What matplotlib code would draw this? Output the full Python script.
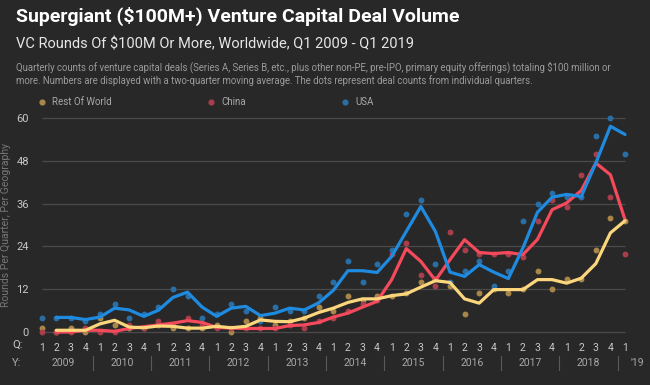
import matplotlib.pyplot as plt
import matplotlib.transforms as mtransforms

plt.rcParams['font.family'] = ['Roboto', 'DejaVu Sans']

# quarters Q1 2009 .. Q1 2019
quarters = ['1', '2', '3', '4'] * 10 + ['1']
years = ['2009', '2010', '2011', '2012', '2013', '2014', '2015', '2016', '2017', '2018']

# individual quarter deal counts (dots)
usa_dots = [4, 4, 4, 3, 5, 8, 4, 5, 7, 12, 10, 4, 5, 8, 6, 3, 7, 6, 6, 10,
            14, 20, 14, 19, 23, 33, 37, 19, 14, 17, 20, 13, 17, 31, 36, 39, 38, 38, 55, 60, 50]
china_dots = [0, 0, 0, 1, 0, 0, 2, 1, 3, 2, 4, 2, 1, 1, 1, 1, 1, 2, 1, 3,
              4, 6, 8, 9, 22, 25, 16, 13, 28, 23, 22, 22, 22, 21, 31, 37, 35, 44, 50, 38, 22]
row_dots = [1, 0, 1, 0, 4, 2, 1, 1, 2, 1, 1, 1, 2, 0, 3, 4, 2, 3, 4, 7,
            6, 10, 9, 10, 10, 11, 14, 15, 13, 5, 11, 12, 11, 12, 17, 12, 15, 15, 23, 32, 31]

# two-quarter moving average lines (start at Q2 2009)
usa_line = [4.1, 4.1, 3.5, 4.2, 6.7, 6.2, 4.4, 6.1, 9.7, 11.2, 7.0, 4.4, 6.7, 7.2, 4.6, 5.3,
            6.7, 6.2, 8.2, 11.7, 17.2, 17.2, 16.7, 21.2, 28.2, 35.2, 28.2, 16.8, 15.6, 18.9,
            16.8, 15.0, 23.6, 33.6, 37.8, 38.6, 38.0, 47.4, 57.7, 55.4]
china_line = [0, 0, 0.5, 0.5, 0.2, 1.0, 1.5, 2.0, 2.5, 3.2, 2.7, 1.3, 1.1, 1.0, 1.0, 1.0,
              1.8, 2.0, 2.7, 4.2, 5.3, 7.0, 8.6, 14.7, 23.4, 19.8, 14.5, 20.3, 25.9, 22.3,
              22.0, 22.3, 21.7, 26.0, 34.3, 36.2, 39.7, 47.4, 44.1, 31.5]
row_line = [0.5, 0.5, 0.5, 2.3, 3.3, 1.4, 1.2, 1.7, 1.6, 1.1, 1.1, 1.6, 1.2, 1.6, 3.4, 3.0,
            2.9, 3.9, 5.5, 6.7, 8.3, 9.3, 9.3, 10.2, 10.7, 12.6, 14.4, 13.9, 9.3, 8.1,
            11.9, 11.9, 11.9, 14.7, 14.7, 13.7, 15.1, 19.2, 27.8, 31.2]

bg = '#282828'
c_usa, c_china, c_row = '#1f8be0', '#f44a5c', '#fcd67c'
d_usa, d_china, d_row = '#2a6ea6', '#a83d4b', '#a8864a'

fig = plt.figure(figsize=(6.5, 3.85), dpi=100, facecolor=bg)
ax = fig.add_axes([34.4 / 650, 1 - 337.4 / 385, 597.9 / 650, 224.7 / 385], facecolor=bg)

x = list(range(len(quarters)))
xl = x[1:]
for yv in range(0, 61, 12):
    ax.hlines(yv, 0, 40, color='#4a4a4a', linewidth=0.9, zorder=0)

ax.scatter(x, row_dots, s=18, color=d_row, linewidths=0, zorder=1, clip_on=False)
ax.scatter(x, china_dots, s=18, color=d_china, linewidths=0, zorder=1, clip_on=False)
ax.scatter(x, usa_dots, s=18, color=d_usa, linewidths=0, zorder=1, clip_on=False)
ax.plot(xl, china_line, color=c_china, linewidth=2.3, zorder=2, solid_capstyle='round')
ax.plot(xl, usa_line, color=c_usa, linewidth=2.3, zorder=3, solid_capstyle='round')
ax.plot(xl, row_line, color=c_row, linewidth=2.3, zorder=4, solid_capstyle='round')

ax.set_xlim(-0.5, 40.5)
ax.set_ylim(-1.5, 61.5)
ax.set_yticks(range(0, 61, 12))
ax.set_xticks(x)
ax.set_xticklabels(quarters)
ax.tick_params(axis='y', length=0, pad=4, labelsize=8, labelcolor='#c8c8c8')
ax.tick_params(axis='x', length=0, pad=4, labelsize=7.5, labelcolor='#c8c8c8')
for s in ax.spines.values():
    s.set_visible(False)

# year labels and separators
tr = mtransforms.blended_transform_factory(ax.transData, fig.transFigure)
for k, yr in enumerate(years):
    ax.text(4 * k + 1.5, 1 - 363 / 385, yr, transform=tr, ha='center', va='center',
            fontsize=7.5, color='#a8a8a8')
    ax.plot([4 * k + 3.5] * 2, [1 - 356 / 385, 1 - 370 / 385], transform=tr,
            color='#5a5a5a', linewidth=0.8, clip_on=False)
ax.text(40.35, 1 - 363 / 385, "'19", transform=tr, ha='left', va='center',
        fontsize=7.5, color='#a8a8a8')
fig.text(12 / 650, 1 - 345 / 385, 'Q:', ha='left', va='center', fontsize=8, color='#c8c8c8')
fig.text(12 / 650, 1 - 363 / 385, 'Y:', ha='left', va='center', fontsize=8, color='#a8a8a8')

fig.text(6 / 650, 1 - 225 / 385, 'Rounds Per Quarter, Per Geography', rotation=90,
         ha='center', va='center', fontsize=7.5, color='#777777')

# titles
fig.text(16 / 650, 1 - 16 / 385, 'Supergiant ($100M+) Venture Capital Deal Volume',
         ha='left', va='center', fontsize=14, fontweight='bold', color='white')
fig.text(16 / 650, 1 - 44 / 385, 'VC Rounds Of $100M Or More, Worldwide, Q1 2009 - Q1 2019',
         ha='left', va='center', fontsize=10.5, color='#e6e6e6')
fig.text(16 / 650, 1 - 67 / 385,
         'Quarterly counts of venture capital deals (Series A, Series B, etc., plus other non-PE, '
         'pre-IPO, primary equity offerings) totaling $100 million or',
         ha='left', va='center', fontsize=6.9, color='#9a9a9a')
fig.text(16 / 650, 1 - 81 / 385,
         'more. Numbers are displayed with a two-quarter moving average. '
         'The dots represent deal counts from individual quarters.',
         ha='left', va='center', fontsize=6.9, color='#9a9a9a')

# legend
for lx, col, lab in [(41.5, d_row, 'Rest Of World'), (211, d_china, 'China'), (345, d_usa, 'USA')]:
    ax.scatter([lx / 650], [1 - 102 / 385], s=20, color=col, linewidths=0,
               transform=fig.transFigure, clip_on=False)
    fig.text((lx + 10) / 650, 1 - 102 / 385, lab, ha='left', va='center', fontsize=7,
             color='#a8a8a8')

fig.savefig('out.png', dpi=100, facecolor=bg)
